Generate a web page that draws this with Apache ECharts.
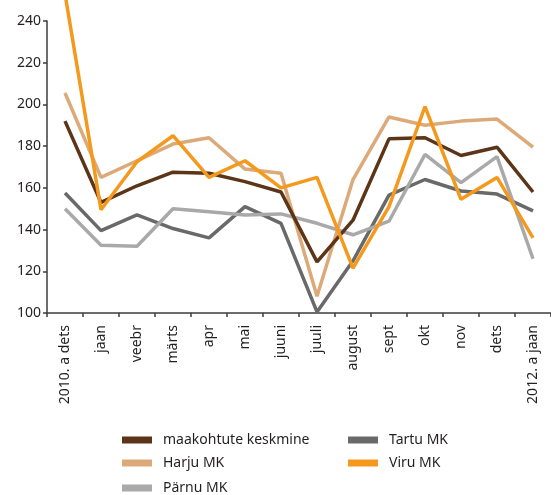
<!DOCTYPE html>
<html>
<head>
    <meta charset="utf-8">
    <title>Maakohtud</title>
    <script src="https://cdn.jsdelivr.net/npm/echarts@6/dist/echarts.min.js"></script>
    <style>
        html, body { margin: 0; padding: 0; background: #fff; }
        #chart1 { width: 551px; height: 495px; }
    </style>
</head>
<body>
<div id="chart1"></div>
<script type="text/javascript">
    // kuud
    var months = ['2010. a dets', 'jaan', 'veebr', 'märts', 'apr', 'mai', 'juuni',
        'juuli', 'august', 'sept', 'okt', 'nov', 'dets', '2012. a jaan'];

    // väärtused graafikult loetud
    var keskmine = [192, 153, 161, 167.5, 167, 163, 158, 124.5, 144.5, 183.5, 184, 175.5, 179.5, 158];
    var harju = [205.5, 165, 173, 181, 184, 169, 167, 108, 164, 194, 190, 192, 193, 179.5];
    var parnu = [150, 132.5, 132, 150, 148.5, 147, 147.5, 143, 137.5, 144, 176, 162.5, 175, 126];
    var tartu = [157.5, 139.5, 147, 140.5, 136, 151, 143, 100.5, 125, 156.5, 164, 158.5, 157, 149];
    var viru = [253, 149.5, 172.5, 185, 165, 173, 160, 165, 121.5, 151, 199, 154.5, 165, 136];

    var yTicks = [100, 120, 140, 160, 180, 200, 220, 240];

    var textColor = '#231f20';
    var axisColor = '#3c3c3c';
    var font = 'Noto Sans';

    function line(name, data, color) {
        return {
            name: name,
            type: 'line',
            data: data,
            symbol: 'none',
            clip: false,
            lineStyle: { color: color, width: 3.5 },
            itemStyle: { color: color }
        };
    }

    // üks legend iga kirje jaoks
    function leg(name, left, top) {
        return {
            data: [name],
            left: left,
            top: top,
            itemWidth: 30,
            itemHeight: 7,
            icon: 'rect',
            padding: 0,
            itemGap: 0,
            textStyle: { fontSize: 14, color: textColor, fontFamily: font, padding: [0, 0, 0, 6] }
        };
    }

    var myChart1 = echarts.init(document.getElementById('chart1'));
    myChart1.setOption({
        animation: false,
        textStyle: { fontFamily: font, color: textColor },
        grid: { left: 47, top: 21, right: -7, bottom: 182, containLabel: false },
        legend: [
            leg('maakohtute keskmine', 122, 433),
            leg('Harju MK', 122, 456),
            leg('Pärnu MK', 122, 481),
            leg('Tartu MK', 348, 433),
            leg('Viru MK', 348, 456)
        ],
        xAxis: {
            type: 'category',
            data: months,
            boundaryGap: true,
            axisLine: { lineStyle: { color: axisColor, width: 1.5 } },
            axisTick: { show: true, length: 4, alignWithLabel: false, lineStyle: { color: axisColor, width: 1.5 } },
            axisLabel: { rotate: 90, margin: 12, fontSize: 14, color: textColor, interval: 0, fontFamily: font }
        },
        yAxis: {
            type: 'value',
            min: yTicks[0],
            max: yTicks[yTicks.length - 1],
            interval: 20,
            splitLine: { show: false },
            axisLine: { show: true, lineStyle: { color: axisColor, width: 1.5 } },
            axisTick: { show: true, length: 4, lineStyle: { color: axisColor, width: 1.5 } },
            axisLabel: { fontSize: 14, color: textColor, margin: 6, fontFamily: font }
        },
        series: [
            line('Tartu MK', tartu, '#696969'),
            line('Pärnu MK', parnu, '#a9a9a9'),
            line('Harju MK', harju, '#dcaa78'),
            line('maakohtute keskmine', keskmine, '#5c3519'),
            line('Viru MK', viru, '#f4991d')
        ]
    });
</script>
</body>
</html>
